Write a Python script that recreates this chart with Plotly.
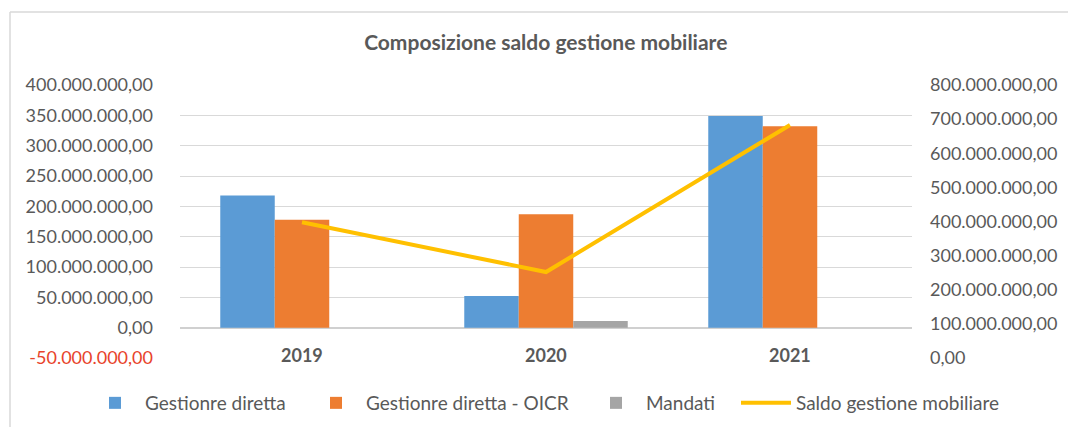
import plotly.graph_objects as go

categories = ["2019", "2020", "2021"]
gestione_diretta = [218_000_000, 52_000_000, 349_000_000]
gestione_diretta_oicr = [178_000_000, 187_000_000, 332_000_000]
mandati = [0, 11_000_000, 0]
saldo_gestione = [398_000_000, 252_000_000, 683_000_000]

left_ticks = [-50_000_000 + 50_000_000 * i for i in range(10)]
right_ticks = [100_000_000 * i for i in range(9)]


def fmt_it(v):
    s = f"{abs(v):,.2f}".replace(",", "X").replace(".", ",").replace("X", ".")
    return ("-" if v < 0 else "") + s


left_text = [fmt_it(v) if v >= 0 else f"<span style='color:#E8432B'>{fmt_it(v)}</span>" for v in left_ticks]
right_text = [fmt_it(v) for v in right_ticks]

FONT = "Lato"
GREY = "#595959"

fig = go.Figure()
fig.add_trace(go.Bar(x=categories, y=gestione_diretta, name="Gestionre diretta", legend="legend",
                     marker=dict(color="#5B9BD5", line=dict(width=0))))
fig.add_trace(go.Bar(x=categories, y=gestione_diretta_oicr, name="Gestionre diretta - OICR",
                     legend="legend2", marker=dict(color="#ED7D31", line=dict(width=0))))
fig.add_trace(go.Bar(x=categories, y=mandati, name="Mandati", legend="legend3",
                     marker=dict(color="#A5A5A5", line=dict(width=0))))
fig.add_trace(go.Scatter(x=categories, y=saldo_gestione, name="Saldo gestione mobiliare",
                         legend="legend4", mode="lines",
                         line=dict(color="#FFC000", width=4), yaxis="y2"))

for i, c in enumerate(categories):
    fig.add_annotation(x=i, xref="x", y=0, yref="paper", yanchor="middle", yshift=3,
                       text=f"<b>{c}</b>", showarrow=False,
                       font=dict(family=FONT, size=18, color=GREY))


def legend_at(px):
    return dict(orientation="h", xref="paper", x=(px - 180) / 732, xanchor="left",
                yref="paper", y=-(403 - 358) / 273, yanchor="middle",
                font=dict(family=FONT, size=19, color=GREY), itemwidth=50,
                bgcolor="rgba(0,0,0,0)")


fig.update_layout(
    width=1068, height=427,
    margin=dict(l=180, r=156, t=85, b=69, autoexpand=False),
    paper_bgcolor="white", plot_bgcolor="white",
    barmode="group", bargap=0.33, bargroupgap=0,
    title=dict(text="<b>Composizione saldo gestione mobiliare</b>", x=0.511, xanchor="center",
               xref="container", y=1 - 43 / 427, yanchor="middle",
               font=dict(family=FONT, size=21, color=GREY)),
    font=dict(family=FONT, size=18, color=GREY),
    xaxis=dict(type="category", range=[-0.5, 2.5], showticklabels=False, showgrid=False,
               showline=False, ticks=""),
    yaxis=dict(range=[-50_000_000, 400_000_000], tickvals=left_ticks, ticktext=left_text,
               showgrid=True, gridcolor="#D9D9D9", gridwidth=1,
               zeroline=True, zerolinecolor="#D0D0D0", zerolinewidth=2,
               showline=False, ticks="", ticklabelstandoff=26, automargin=False,
               tickfont=dict(family=FONT, size=18, color=GREY)),
    yaxis2=dict(range=[0, 800_000_000], tickvals=right_ticks, ticktext=right_text,
                overlaying="y", side="right", showgrid=False, zeroline=False,
                showline=False, ticks="", ticklabelstandoff=17, automargin=False,
                tickfont=dict(family=FONT, size=18, color=GREY)),
    legend=legend_at(85),
    legend2=legend_at(306),
    legend3=legend_at(586),
    legend4=legend_at(736),
    showlegend=True,
)

fig.add_shape(type="line", xref="paper", yref="paper",
              x0=-170 / 732, x1=1.3, y0=1 + 73 / 273, y1=1 + 73 / 273,
              line=dict(color="#D9D9D9", width=1.5))
fig.add_shape(type="line", xref="paper", yref="paper",
              x0=-170 / 732, x1=-170 / 732, y0=1 + 73 / 273, y1=-0.3,
              line=dict(color="#D9D9D9", width=1.5))

fig.write_html("out.html", config={"displayModeBar": False},
               post_script="document.body.style.margin='0';")
